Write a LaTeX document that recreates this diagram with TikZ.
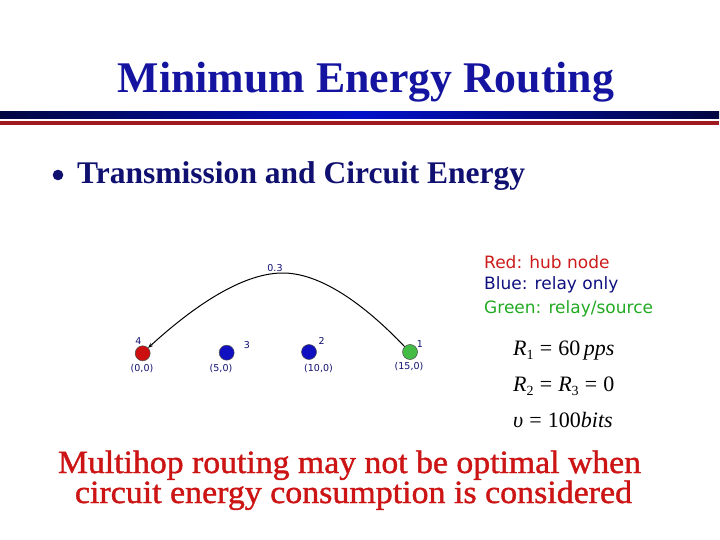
\documentclass[tikz,border=0pt]{standalone}
\usepackage{fontspec}
\setmainfont{Liberation Serif}
\newfontfamily\legendfont{DejaVu Sans}
\newfontfamily\heavyserif[FakeBold=1.2]{Liberation Serif}
\usetikzlibrary{arrows.meta}
\definecolor{titleblue}{HTML}{1414A0}
\definecolor{navy}{HTML}{101070}
\definecolor{barblue}{HTML}{0010C8}
\definecolor{bardark}{HTML}{000640}
\definecolor{barred}{HTML}{A01820}
\definecolor{msgred}{HTML}{CC1414}
\definecolor{hubred}{HTML}{CC1010}
\definecolor{relayblue}{HTML}{1010C0}
\definecolor{srcgreen}{HTML}{44BB44}
\definecolor{legred}{HTML}{CC1C1C}
\definecolor{legblue}{HTML}{101080}
\definecolor{leggreen}{HTML}{22AA22}
\tikzset{
  netnode/.style={circle, minimum size=15pt, inner sep=0pt, draw=black!70, line width=0.5pt},
  small/.style={font=\legendfont\fontsize{9.5}{10}\selectfont, text=navy, inner sep=0pt},
  legend/.style={font=\legendfont\fontsize{17}{19}\selectfont, anchor=west, inner sep=0pt},
  eqn/.style={font=\fontsize{22}{24}\selectfont, anchor=west, inner sep=0pt},
  msgline/.style={text=msgred, inner sep=0pt, anchor=base},
}
\newcommand{\sbs}[1]{\raisebox{-0.35ex}{\fontsize{14}{14}\selectfont #1}}
\begin{document}
\begin{tikzpicture}[x=1pt,y=-1pt]
\useasboundingbox (0,0) rectangle (720,540);
\fill[white] (0,0) rectangle (720,540);
% title
\node[text=titleblue, inner sep=0pt] (title) at (366,82) {\resizebox{496pt}{!}{\bfseries Minimum Energy Routing}};
% bars
\shade[left color=bardark, right color=bardark, middle color=barblue] (0,112) rectangle (719,118.5);
\fill[barred] (0,121.3) rectangle (719,125);
% bullet
\fill[navy] (58,175) circle (5.3);
\node[text=navy, anchor=west, inner sep=0pt] (sub) at (77,176) {\resizebox{448pt}{!}{\bfseries Transmission and Circuit Energy}};
% network
\node[netnode, fill=hubred] (r) at (142.7,353.3) {};
\node[netnode, fill=relayblue] (b3) at (226.7,352.7) {};
\node[netnode, fill=relayblue] (b2) at (309,352) {};
\node[netnode, fill=srcgreen] (g) at (410,352) {};
\node[small] (l4) at (138.5,341.5) {4};
\node[small] (l3) at (247,345) {3};
\node[small] (l2) at (321.7,340.7) {2};
\node[small] (l1) at (420,344) {1};
\node[small] (c0) at (142,368.5) {(0,0)};
\node[small] (c5) at (221,368.5) {(5,0)};
\node[small] (c10) at (318.5,368.5) {(10,0)};
\node[small] (c15) at (409,366.7) {(15,0)};
\node[small] (w) at (275,268) {0.3};
\draw[line width=1pt, -{Stealth[length=5pt,width=4pt]}] (g.north west) .. controls (365,305) and (320,272) .. (281,273) .. controls (242,274) and (195,305) .. (r.north east);
% legend
\node[legend, text=legred] (lr) at (484,262) {Red: hub node};
\node[legend, text=legblue] (lb) at (484,285) {Blue: relay only};
\node[legend, text=leggreen] (lg) at (484,308.5) {Green: relay/source};
% equations
\node[eqn] (e1) at (513,351) {\textit{R}\sbs{1}\;=\;60\,\textit{pps}};
\node[eqn] (e2) at (513,386) {\textit{R}\sbs{2}\;=\;\textit{R}\sbs{3}\;=\;0};
\node[eqn] (e3) at (513,420) {\textit{υ}\;=\;100\textit{bits}};
% message
\node[msgline] (msg1) at (349.5,473) {\resizebox{583pt}{22.5pt}{\heavyserif Multihop routing may not be optimal when}};
\node[msgline] (msg2) at (353.5,503) {\resizebox{557pt}{22.5pt}{\heavyserif circuit energy consumption is considered}};
\end{tikzpicture}
\end{document}
